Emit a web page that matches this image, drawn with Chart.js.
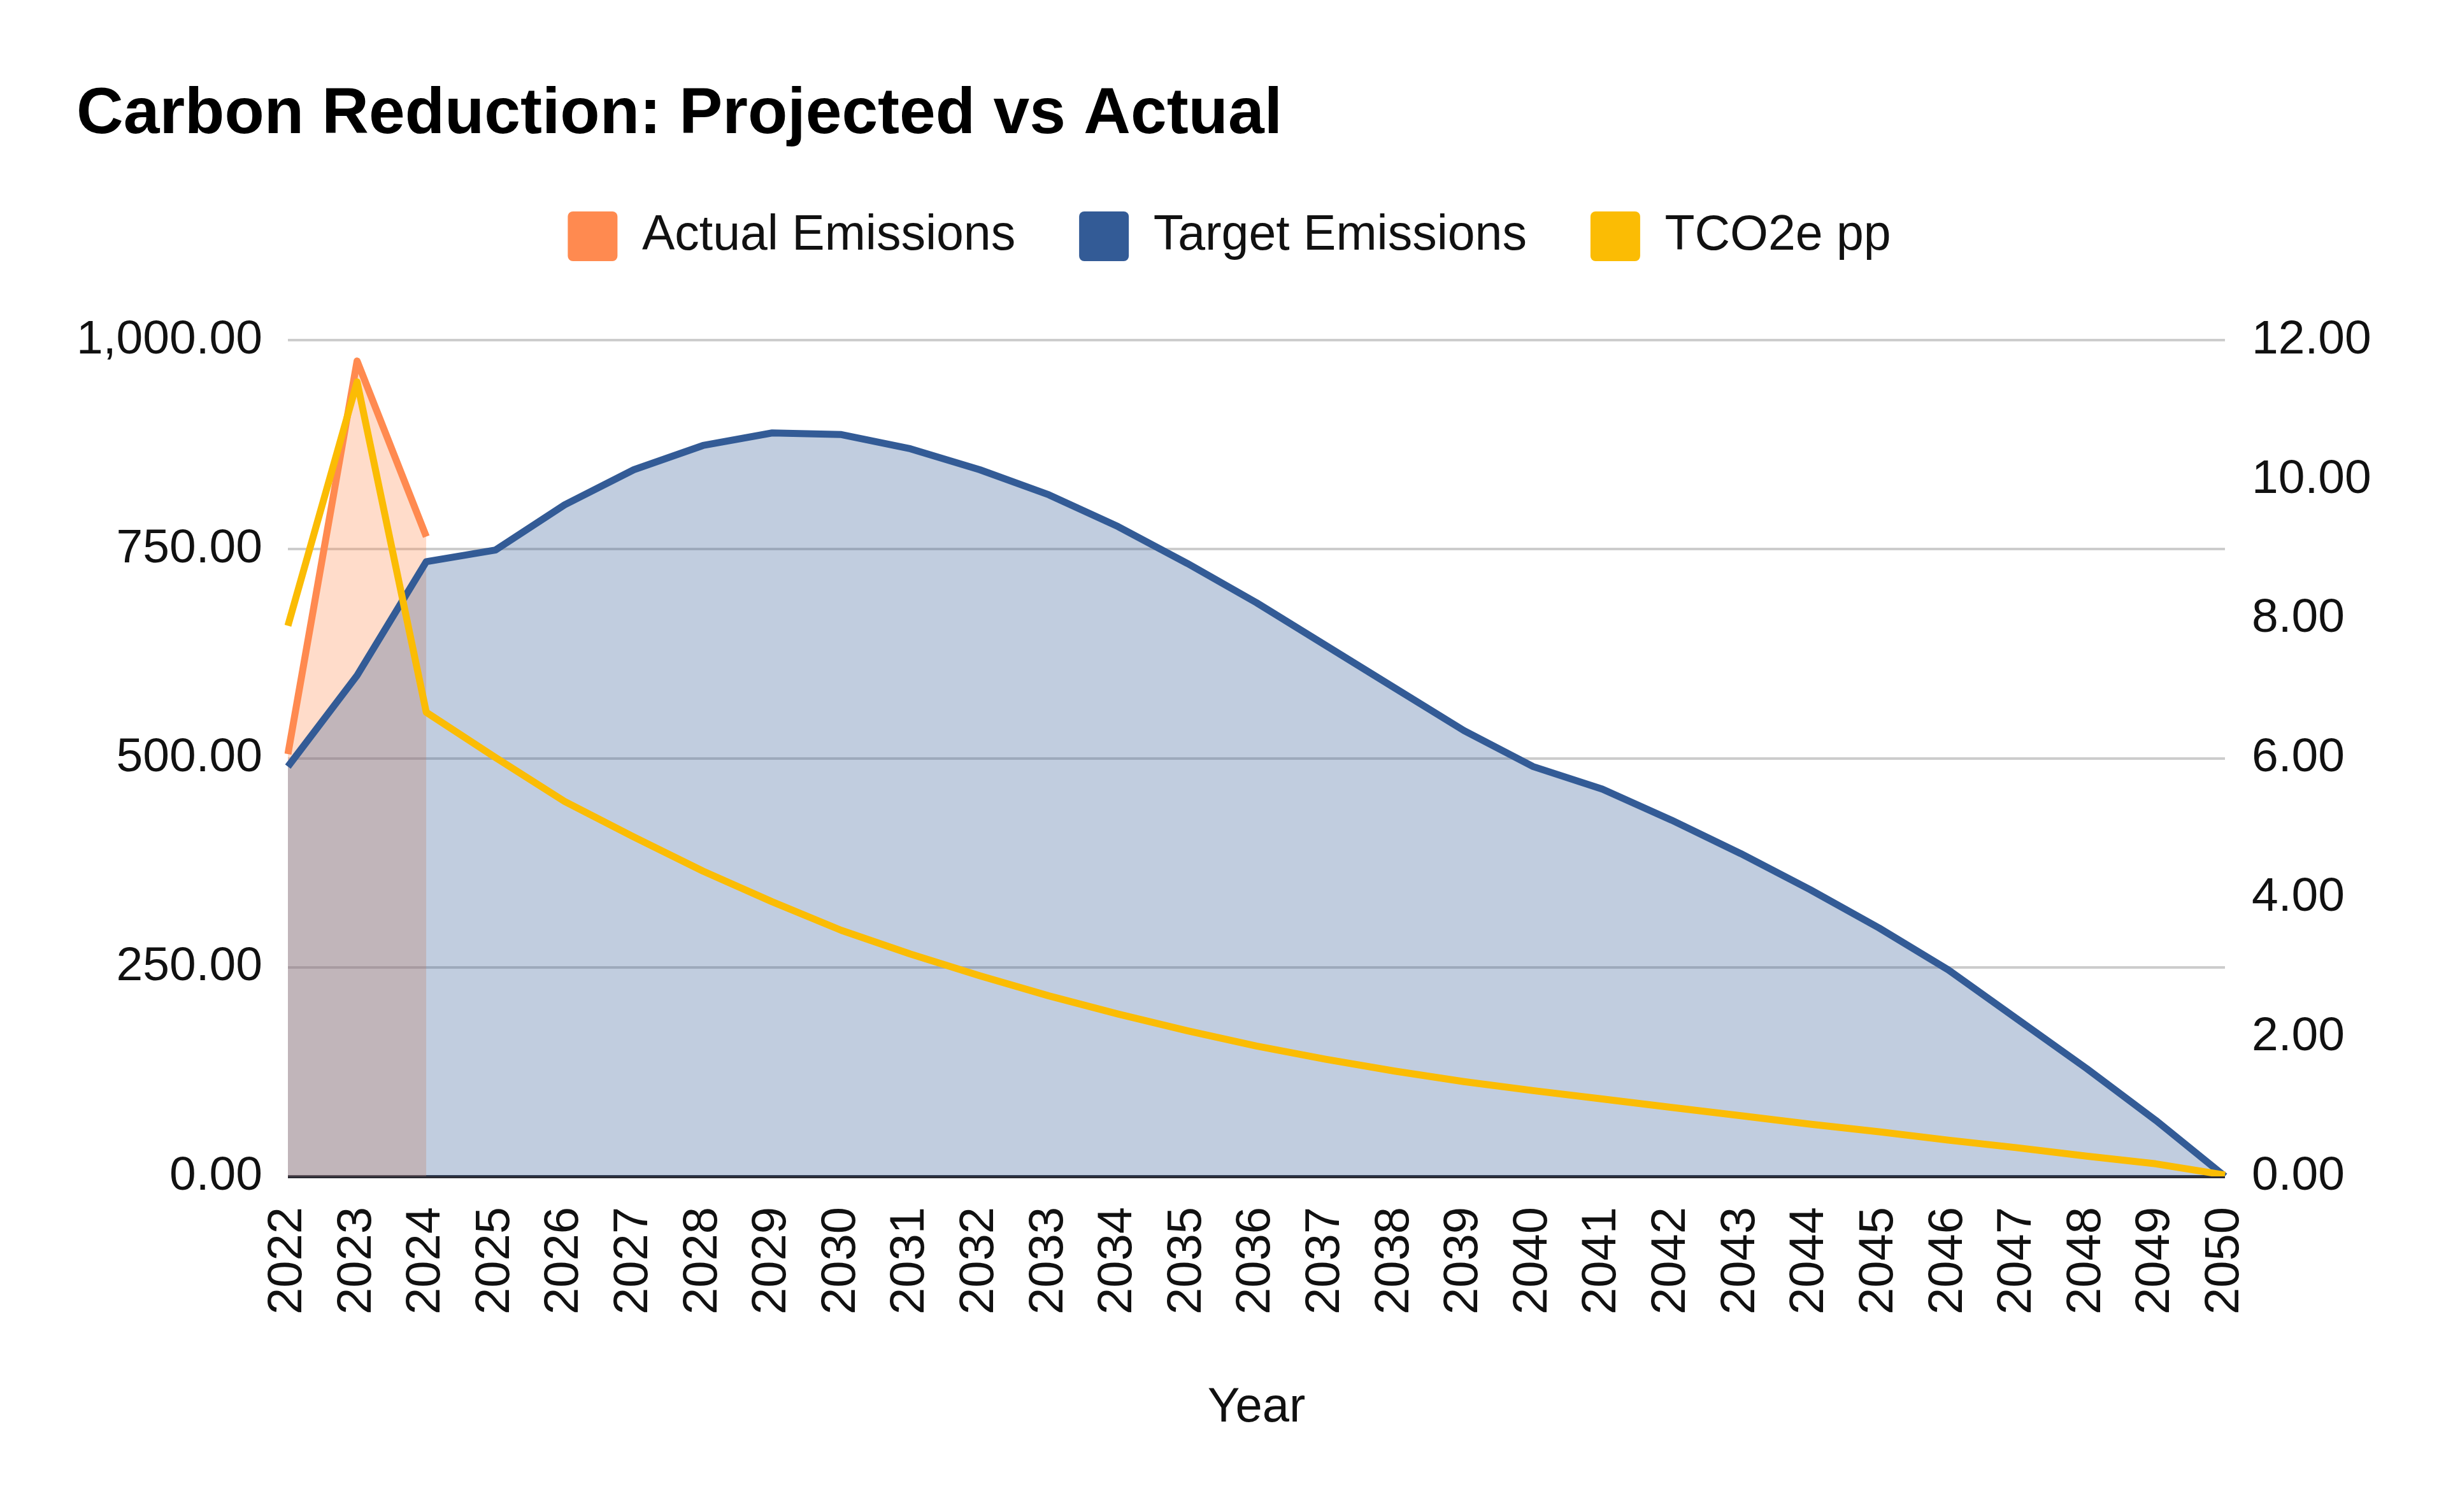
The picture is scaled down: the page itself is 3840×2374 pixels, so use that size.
<!DOCTYPE html>
<html>
<head>
<meta charset="utf-8">
<script src="https://cdn.jsdelivr.net/npm/chart.js@4"></script>
<style>
  html, body { margin: 0; padding: 0; background: #fff; }
  #wrap { width: 3840px; height: 2374px; position: relative; }
</style>
</head>
<body>
<div id="wrap"><canvas id="chart1"></canvas></div>
<script>
// data
var years = ["2022","2023","2024","2025","2026","2027","2028","2029","2030","2031",
             "2032","2033","2034","2035","2036","2037","2038","2039","2040","2041",
             "2042","2043","2044","2045","2046","2047","2048","2049","2050"];
var actualEmissions = [505, 975, 765, null, null, null, null, null, null, null,
                       null, null, null, null, null, null, null, null, null, null,
                       null, null, null, null, null, null, null, null, null];
var targetEmissions = [490, 599, 735, 749, 803, 845, 874, 889, 887, 870,
                       845, 815, 777, 733, 686, 635, 584, 533, 490, 463,
                       426, 386, 343, 297, 247, 188, 129, 67, 0];
var tco2ePerPerson = [7.9, 11.4, 6.66, 6.01, 5.38, 4.87, 4.38, 3.94, 3.53, 3.19,
                      2.88, 2.59, 2.33, 2.09, 1.87, 1.68, 1.51, 1.36, 1.23, 1.11,
                      0.99, 0.87, 0.75, 0.64, 0.52, 0.41, 0.29, 0.18, 0.02];
var leftTicks = [0, 250, 500, 750, 1000];
var rightTicks = [0, 2, 4, 6, 8, 10, 12];

var FONT = '"Liberation Sans", Arial, sans-serif';
var ORANGE = '#ff8a50',
    BLUE = '#335b96',
    YELLOW = '#fbbc04';

Chart.defaults.font.family = FONT;
Chart.defaults.color = '#111';

var chartEl1 = document.getElementById('chart1');

// legend gets a fixed height so the plot starts where the original does
var legendHeight = {
	id: 'legendHeight',
	beforeInit: function(chart) {
		var fit = chart.legend.fit;
		chart.legend.fit = function() {
			fit.call(this);
			this.height = 302;
		};
	}
};

var chart1Func = function() {
	var ctx = chartEl1.getContext('2d'),
	chart = new Chart(ctx, {
		type: 'line',
		data: {
			labels: years,
			datasets: [{
				label: 'Actual Emissions',
				data: actualEmissions,
				borderColor: ORANGE,
				backgroundColor: 'rgba(255,138,80,0.3)',
				fill: 'origin',
				yAxisID: 'y',
				order: 3
			}, {
				label: 'Target Emissions',
				data: targetEmissions,
				borderColor: BLUE,
				backgroundColor: 'rgba(51,91,150,0.3)',
				fill: 'origin',
				yAxisID: 'y',
				order: 2
			}, {
				label: 'TCO2e pp',
				data: tco2ePerPerson,
				borderColor: YELLOW,
				backgroundColor: YELLOW,
				fill: false,
				yAxisID: 'y1',
				order: 1
			}]
		},
		options: {
			responsive: true,
			maintainAspectRatio: false,
			animation: false,
			layout: {
				padding: { top: 0, left: 120, right: 100, bottom: 117 }
			},
			elements: {
				line: { borderWidth: 11, tension: 0, borderJoinStyle: 'round' },
				point: { radius: 0, hoverRadius: 0 }
			},
			plugins: {
				title: {
					display: true,
					text: 'Carbon Reduction: Projected vs Actual',
					align: 'start',
					color: '#000',
					font: { size: 102, weight: 'bold', lineHeight: 1.0 },
					padding: { top: 130, bottom: 0 }
				},
				legend: {
					display: true,
					position: 'top',
					labels: {
						color: '#111',
						font: { size: 77 },
						boxWidth: 78,
						boxHeight: 78,
						padding: 100,
						useBorderRadius: true,
						borderRadius: 8,
						sort: function(a, b) { return a.datasetIndex - b.datasetIndex; },
						generateLabels: function(c) {
							var items = Chart.defaults.plugins.legend.labels.generateLabels(c);
							items.forEach(function(it) {
								it.fillStyle = it.strokeStyle;
								it.lineWidth = 0;
							});
							return items;
						}
					}
				},
				tooltip: { enabled: false }
			},
			scales: {
				x: {
					grid: { display: false },
					border: { display: false },
					afterFit: function(axis) { axis.height = 410; },
					ticks: {
						color: '#111',
						font: { size: 76 },
						minRotation: 90,
						maxRotation: 90,
						autoSkip: false,
						padding: 40
					},
					title: {
						display: true,
						text: 'Year',
						color: '#111',
						font: { size: 76, lineHeight: 1.2 },
						padding: { top: 0, bottom: 0 }
					}
				},
				y: {
					position: 'left',
					min: leftTicks[0],
					max: leftTicks[leftTicks.length - 1],
					afterBuildTicks: function(axis) {
						axis.ticks = leftTicks.map(function(v) { return { value: v }; });
					},
					afterFit: function(axis) { axis.width = 332; },
					grid: {
						drawTicks: false,
						lineWidth: function(c) { return c.tick && c.tick.value === 0 ? 5 : 4; },
						color: function(c) { return c.tick && c.tick.value === 0 ? '#2b2b33' : '#cccccc'; }
					},
					border: { display: false },
					ticks: {
						color: '#111',
						font: { size: 75 },
						padding: 40,
						callback: function(v) {
							return Number(v).toLocaleString('en-US', { minimumFractionDigits: 2, maximumFractionDigits: 2 });
						}
					}
				},
				y1: {
					position: 'right',
					min: rightTicks[0],
					max: rightTicks[rightTicks.length - 1],
					afterBuildTicks: function(axis) {
						axis.ticks = rightTicks.map(function(v) { return { value: v }; });
					},
					afterFit: function(axis) { axis.width = 247; },
					grid: { display: false, drawOnChartArea: false },
					border: { display: false },
					ticks: {
						color: '#111',
						font: { size: 75 },
						padding: 34,
						callback: function(v) { return Number(v).toFixed(2); }
					}
				}
			}
		},
		plugins: [legendHeight]
	});
};

chart1Func();
</script>
</body>
</html>
